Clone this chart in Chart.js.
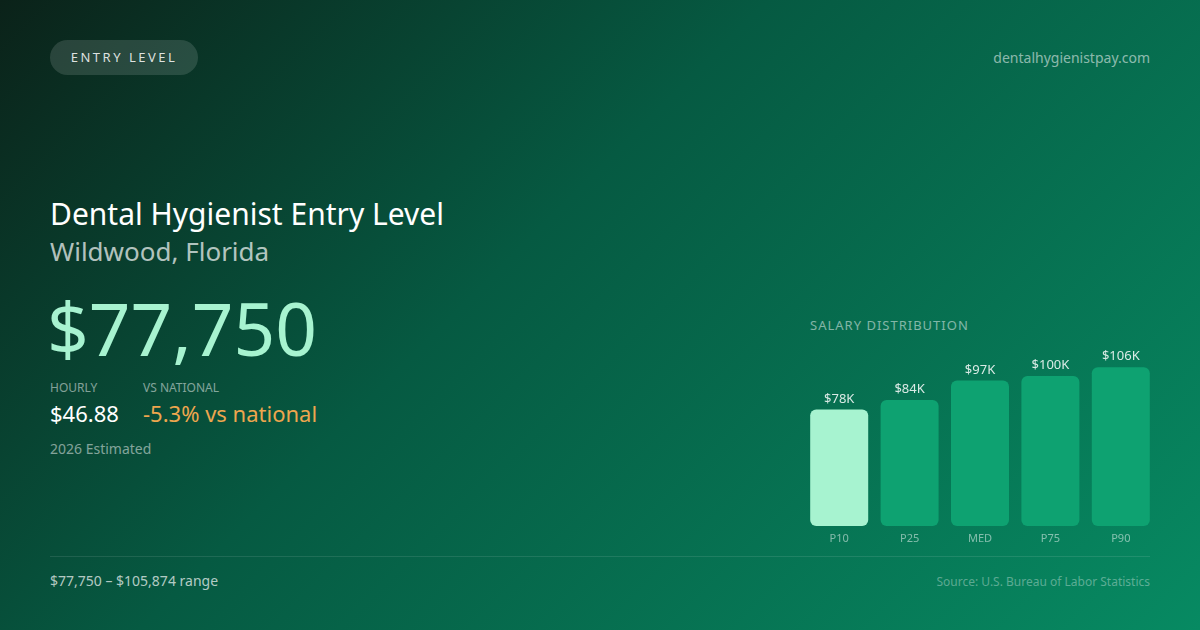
<!DOCTYPE html>
<html>
<head>
<meta charset="utf-8">
<script src="https://cdn.jsdelivr.net/npm/chart.js@4/dist/chart.umd.min.js"></script>
<style>
  html, body { margin: 0; padding: 0; }
  body {
    width: 1200px; height: 630px; overflow: hidden; position: relative;
    font-family: "Noto Sans", "Open Sans", sans-serif;
    background: linear-gradient(135deg, #0b2219 0%, #065a42 42%, #078a62 100%);
    color: #fff;
  }
  .abs { position: absolute; white-space: nowrap; }
  .pill {
    left: 50px; top: 40px; width: 148px; height: 35px; border-radius: 18px;
    background: rgba(255,255,255,0.13);
    font-size: 13px; letter-spacing: 2.5px; line-height: 35px; text-align: center;
    color: rgba(255,255,255,0.85);
  }
  .site { right: 50px; top: 48px; font-size: 14px; color: rgba(255,255,255,0.55); }
  .title { left: 50px; top: 193px; font-size: 30px; color: #fff; }
  .loc { left: 50px; top: 233px; font-size: 26px; color: rgba(255,255,255,0.7); }
  .big { left: 47px; top: 283px; font-size: 73px; color: #a7f3d0; line-height: 90px; }
  .lbl { top: 379px; font-size: 12px; color: rgba(255,255,255,0.5); }
  .val { top: 398px; font-size: 22px; }
  .est { left: 50px; top: 439px; font-size: 14px; color: rgba(255,255,255,0.5); }
  .rule { left: 50px; top: 556px; width: 1100px; height: 1px; background: rgba(255,255,255,0.1); }
  .range { left: 50px; top: 571px; font-size: 14px; color: rgba(255,255,255,0.7); }
  .src { right: 50px; top: 573px; font-size: 12px; color: rgba(255,255,255,0.35); }
  .dist { left: 810px; top: 316px; font-size: 13px; letter-spacing: 1px; color: rgba(255,255,255,0.5); }
  #wrap { position: absolute; left: 804px; top: 340px; width: 352px; height: 215px; }
</style>
</head>
<body>
<div class="abs pill">ENTRY LEVEL</div>
<div class="abs site">dentalhygienistpay.com</div>
<div class="abs title">Dental Hygienist Entry Level</div>
<div class="abs loc">Wildwood, Florida</div>
<div class="abs big">$77,750</div>
<div class="abs lbl" style="left:50px">HOURLY</div>
<div class="abs lbl" style="left:143px">VS NATIONAL</div>
<div class="abs val" style="left:50px;color:#fff">$46.88</div>
<div class="abs val" style="left:143px;color:#eea64e">-5.3% vs national</div>
<div class="abs est">2026 Estimated</div>
<div class="abs rule"></div>
<div class="abs range">$77,750 – $105,874 range</div>
<div class="abs src">Source: U.S. Bureau of Labor Statistics</div>
<div class="abs dist">SALARY DISTRIBUTION</div>
<div id="wrap"><canvas id="chart-dist"></canvas></div>

<script>
'use strict';

// datos del gráfico
const percentiles = ['P10', 'P25', 'MED', 'P75', 'P90'];
const salarios = [77750, 84000, 97000, 100000, 105874];
const coloresBarras = ['#a7f3d0', '#0ea271', '#0ea271', '#0ea271', '#0ea271'];

function formatearK(v) {
  return '$' + Math.round(v / 1000) + 'K';
}

// etiquetas encima de cada barra
const etiquetasValor = {
  id: 'etiquetasValor',
  afterDatasetsDraw: function (chart) {
    const ctx = chart.ctx;
    const meta = chart.getDatasetMeta(0);
    ctx.save();
    ctx.font = '13px "Noto Sans", sans-serif';
    ctx.fillStyle = 'rgba(255,255,255,0.85)';
    ctx.textAlign = 'center';
    ctx.textBaseline = 'bottom';
    meta.data.forEach(function (bar, i) {
      ctx.fillText(formatearK(salarios[i]), bar.x, bar.y - 4);
    });
    ctx.restore();
  }
};

new Chart(document.getElementById('chart-dist').getContext('2d'), {
  type: 'bar',
  data: {
    labels: percentiles,
    datasets: [{
      data: salarios,
      backgroundColor: coloresBarras,
      borderRadius: 6,
      borderSkipped: false,
      barPercentage: 0.824,
      categoryPercentage: 1
    }]
  },
  options: {
    responsive: true,
    maintainAspectRatio: false,
    animation: false,
    layout: { padding: 0 },
    plugins: { legend: { display: false }, tooltip: { enabled: false } },
    scales: {
      y: { display: false, min: 0, max: 124000 },
      x: {
        grid: { display: false, drawTicks: false },
        border: { display: false },
        ticks: {
          color: 'rgba(255,255,255,0.5)',
          font: { family: '"Noto Sans", sans-serif', size: 11 },
          padding: 6
        },
        afterFit: function (scale) { scale.height = 29; }
      }
    }
  },
  plugins: [etiquetasValor]
});
</script>
</body>
</html>
